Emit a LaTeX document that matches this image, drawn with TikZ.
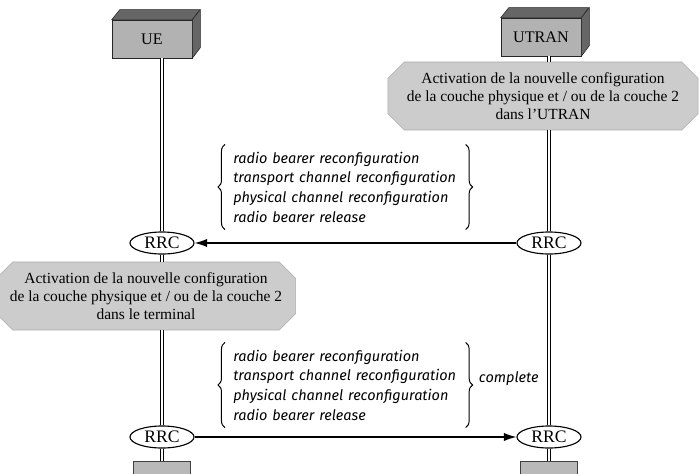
\documentclass[tikz,border=0pt]{standalone}
\usepackage{fontspec}
\setmainfont{Liberation Serif}
\newfontfamily\msgfont{Fira Sans}
\usetikzlibrary{shapes.misc,shapes.geometric,decorations.pathreplacing,arrows.meta}

\begin{document}
\begin{tikzpicture}[x=0.025cm, y=-0.025cm,
			entity/.style={draw=gray!30!black, fill=gray!60, minimum width=2cm, minimum height=0.95cm, font=\fontsize{11.5}{13}\selectfont, inner sep=0pt},
			topface/.style={draw=gray!30!black, fill=gray!80!black},
			endbox/.style={draw=gray!50!black, fill=gray!55, minimum width=1.43cm, minimum height=0.35cm, inner sep=0pt},
			rrc/.style={draw, line width=0.8pt, ellipse, fill=white, minimum width=1.6cm, minimum height=0.55cm, inner sep=0pt, font=\fontsize{12.5}{14}\selectfont},
			act/.style={chamfered rectangle, chamfered rectangle xsep=0.3cm, draw=gray!65, fill=gray!40, minimum height=1.7cm, align=center, font=\fontsize{11}{13}\selectfont, inner sep=1pt},
			msg/.style={align=left, text width=5.6cm, inner xsep=0.2cm, inner ysep=5pt, font=\fontsize{10.3}{14}\selectfont\msgfont\itshape},
			brace/.style={decorate, decoration={brace, amplitude=5pt}, line width=0.7pt},
			life/.style={double=white, double distance=1.5pt, line width=0.7pt, draw=black},
			arrow/.style={-{Latex[length=9pt, width=6pt]}, line width=1pt}
		]
			\useasboundingbox (0,0) rectangle (699,474);

			\node[entity] (ue) at (152,39) {UE};
			\draw[topface] (ue.north west) -- ++(8,-10) -- ++(80,0) -- (ue.north east) -- cycle;
			\draw[topface] (ue.north east) -- ++(8,-10) -- ++(0,38) -- (ue.south east) -- cycle;
			\node[entity] (utran) at (541,37) {UTRAN};
			\draw[topface] (utran.north west) -- ++(8,-10) -- ++(80,0) -- (utran.north east) -- cycle;
			\draw[topface] (utran.north east) -- ++(8,-10) -- ++(0,38) -- (utran.south east) -- cycle;

			\node[act, minimum width=7.75cm] (actnet) at (543,96) {Activation de la nouvelle configuration\\de la couche physique et / ou de la couche 2\\dans l'UTRAN};
			\node[msg, anchor=west] (req) at (225,187) {radio bearer reconfiguration\\transport channel reconfiguration\\physical channel reconfiguration\\radio bearer release};
			\node[rrc] (rrcue) at (162,243) {RRC};
			\node[rrc] (rrcnet) at (549,243) {RRC};
			\node[act, minimum width=7.2cm] (actue) at (146,296) {Activation de la nouvelle configuration\\de la couche physique et / ou de la couche 2\\dans le terminal};
			\node[msg, anchor=west] (rsp) at (225,385) {radio bearer reconfiguration\\transport channel reconfiguration\\physical channel reconfiguration\\radio bearer release};
			\node[font=\fontsize{10.3}{13}\selectfont\msgfont\itshape, anchor=west] (cpl) at (474,379) {complete};
			\node[rrc] (rrcue2) at (162,437) {RRC};
			\node[rrc] (rrcnet2) at (549,437) {RRC};
			\node[endbox, anchor=north] (endue) at (162,461) {};
			\node[endbox, anchor=north] (endnet) at (549,461) {};

			\draw[life] (rrcue.north |- ue.south) -- (rrcue.north);
			\draw[life] (rrcue.south) -- (rrcue.south |- actue.north);
			\draw[life] (rrcue2.north |- actue.south) -- (rrcue2.north);
			\draw[life] (rrcue2.south) -- (endue.north);
			\draw[life] (rrcnet.north |- utran.south) -- (rrcnet.north |- actnet.north);
			\draw[life] (rrcnet.north |- actnet.south) -- (rrcnet.north);
			\draw[life] (rrcnet.south) -- (rrcnet2.north);
			\draw[life] (rrcnet2.south) -- (endnet.north);

			\draw[brace] (req.south west) -- (req.north west);
			\draw[brace] (req.north east) -- (req.south east);
			\draw[brace] (rsp.south west) -- (rsp.north west);
			\draw[brace] (rsp.north east) -- (rsp.south east);

			\draw[arrow] (rrcnet) -- (rrcue);
			\draw[arrow] (rrcue2) -- (rrcnet2);
		\end{tikzpicture}
\end{document}
